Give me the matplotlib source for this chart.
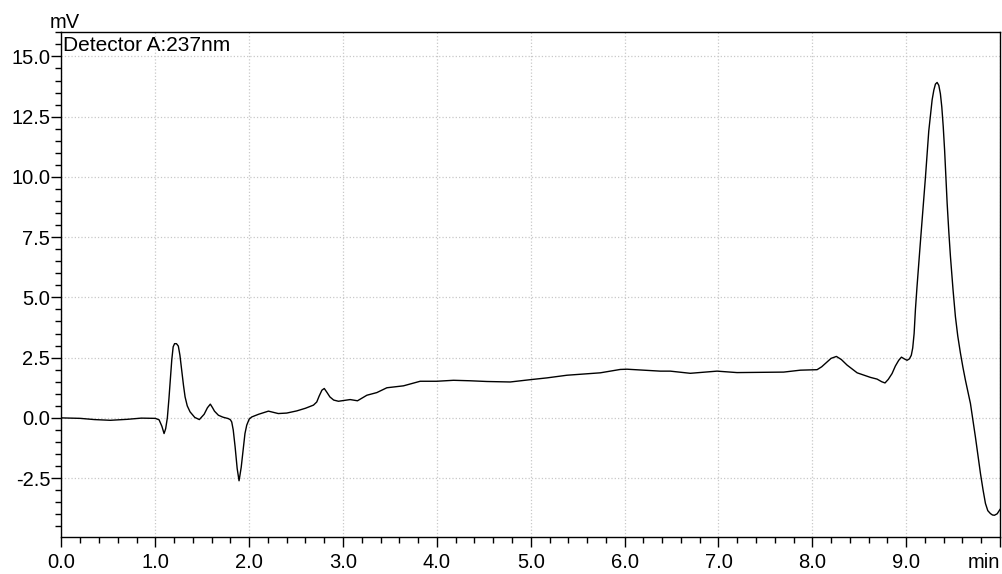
import numpy as np
import matplotlib
matplotlib.use("Agg")
import matplotlib.pyplot as plt
from matplotlib.ticker import MultipleLocator

# 色谱图数据 (min, mV)
t_min = [0.0, 0.2, 0.35, 0.52, 0.7, 0.85, 1.0, 1.04, 1.07, 1.093, 1.11, 1.128, 1.145, 1.16,
         1.175, 1.19, 1.205, 1.225, 1.245, 1.262, 1.281, 1.30, 1.317, 1.34, 1.37, 1.42,
         1.469, 1.52, 1.555, 1.586, 1.61, 1.63, 1.672, 1.72, 1.778, 1.80, 1.814, 1.83,
         1.85, 1.872, 1.892, 1.915, 1.939, 1.955, 1.974, 2.0, 2.028, 2.1, 2.205, 2.31,
         2.4, 2.507, 2.6, 2.685, 2.72, 2.745, 2.775, 2.80, 2.83, 2.86, 2.9, 2.951, 3.076,
         3.154, 3.254, 3.36, 3.467, 3.644, 3.822, 4.0, 4.177, 4.355, 4.533, 4.781, 5.005,
         5.173, 5.386, 5.741, 5.954, 6.026, 6.2, 6.38, 6.487, 6.7, 6.985, 7.198, 7.447,
         7.695, 7.873, 8.051, 8.1, 8.14, 8.2, 8.257, 8.31, 8.371, 8.478, 8.62, 8.69, 8.74,
         8.775, 8.81, 8.85, 8.885, 8.921, 8.95, 8.98, 9.01, 9.035, 9.055, 9.07, 9.085,
         9.099, 9.115, 9.134, 9.15, 9.17, 9.19, 9.206, 9.224, 9.241, 9.26, 9.277, 9.295,
         9.312, 9.33, 9.348, 9.365, 9.38, 9.395, 9.41, 9.437, 9.455, 9.472, 9.5, 9.525,
         9.55, 9.578, 9.605, 9.632, 9.66, 9.685, 9.71, 9.738, 9.765, 9.792, 9.82, 9.845,
         9.87, 9.898, 9.92, 9.941, 9.97, 10.0]
signal_mv = [0.0, -0.02, -0.07, -0.1, -0.06, -0.01, -0.02, -0.08, -0.35, -0.65, -0.45, 0.0, 0.8, 1.6,
             2.4, 2.95, 3.08, 3.08, 2.98, 2.6, 1.98, 1.35, 0.87, 0.5, 0.25, 0.02,
             -0.07, 0.15, 0.42, 0.57, 0.42, 0.28, 0.11, 0.03, -0.03, -0.08, -0.17, -0.5,
             -1.2, -2.1, -2.61, -2.05, -1.2, -0.65, -0.3, -0.05, 0.04, 0.15, 0.28, 0.18,
             0.2, 0.29, 0.4, 0.53, 0.66, 0.9, 1.15, 1.22, 1.05, 0.87, 0.74, 0.69, 0.76,
             0.71, 0.94, 1.05, 1.25, 1.33, 1.52, 1.52, 1.56, 1.54, 1.51, 1.49, 1.59,
             1.66, 1.77, 1.87, 2.01, 2.02, 1.98, 1.94, 1.94, 1.85, 1.94, 1.88, 1.89,
             1.9, 1.98, 2.0, 2.12, 2.26, 2.47, 2.55, 2.42, 2.19, 1.87, 1.68, 1.61, 1.5,
             1.45, 1.6, 1.84, 2.15, 2.39, 2.52, 2.45, 2.39, 2.45, 2.6, 2.9, 3.5,
             4.5, 5.4, 6.4, 7.2, 8.2, 9.2, 10.0, 11.0, 11.9, 12.6, 13.2, 13.6,
             13.85, 13.92, 13.8, 13.45, 12.9, 12.1, 11.1, 8.9, 7.7, 6.7, 5.3, 4.2,
             3.4, 2.7, 2.1, 1.56, 1.05, 0.6, -0.05, -0.79, -1.55, -2.31, -3.0, -3.55,
             -3.85, -3.97, -4.03, -4.04, -3.98, -3.8]

x_ticks = [0, 1, 2, 3, 4, 5, 6, 7, 8, 9, 10]
x_labels = ['0.0', '1.0', '2.0', '3.0', '4.0', '5.0', '6.0', '7.0', '8.0', '9.0', 'min']
y_ticks = [-2.5, 0.0, 2.5, 5.0, 7.5, 10.0, 12.5, 15.0]

plt.rcParams['font.family'] = ['Liberation Sans', 'DejaVu Sans']

fig = plt.figure(figsize=(10.03, 5.74), dpi=100, facecolor='white')
ax = fig.add_axes([0.0613, 0.065, 0.9357, 0.8787])

ax.plot(t_min, signal_mv, color='black', lw=1.0)

ax.set_xlim(0, 10)
ax.set_ylim(-4.93, 16.0)

ax.set_xticks(x_ticks)
ax.set_xticklabels(x_labels)
ax.set_yticks(y_ticks)
ax.set_yticklabels(['%.1f' % v for v in y_ticks])
ax.xaxis.set_minor_locator(MultipleLocator(0.2))
ax.yaxis.set_minor_locator(MultipleLocator(0.5))

ax.tick_params(which='major', direction='out', length=7, width=1, labelsize=14.5)
ax.tick_params(which='minor', direction='out', length=4.5, width=1)
ax.tick_params(axis='x', which='major', pad=5)
ax.tick_params(axis='y', which='major', pad=1)
# 最后一个刻度标签 "min" 右对齐，避免被裁掉
ax.get_xticklabels()[-1].set_horizontalalignment('right')

ax.grid(True, which='major', color='#c8c8c8', linestyle=':', linewidth=0.9)
for s in ax.spines.values():
    s.set_linewidth(1.0)

ax.text(0.002, 0.993, 'Detector A:237nm', transform=ax.transAxes, fontsize=15,
        ha='left', va='top')
fig.text(65 / 1003, 1 - 22 / 574, 'mV', fontsize=14.5, ha='center', va='center')

plt.savefig('out.png', dpi=100)
